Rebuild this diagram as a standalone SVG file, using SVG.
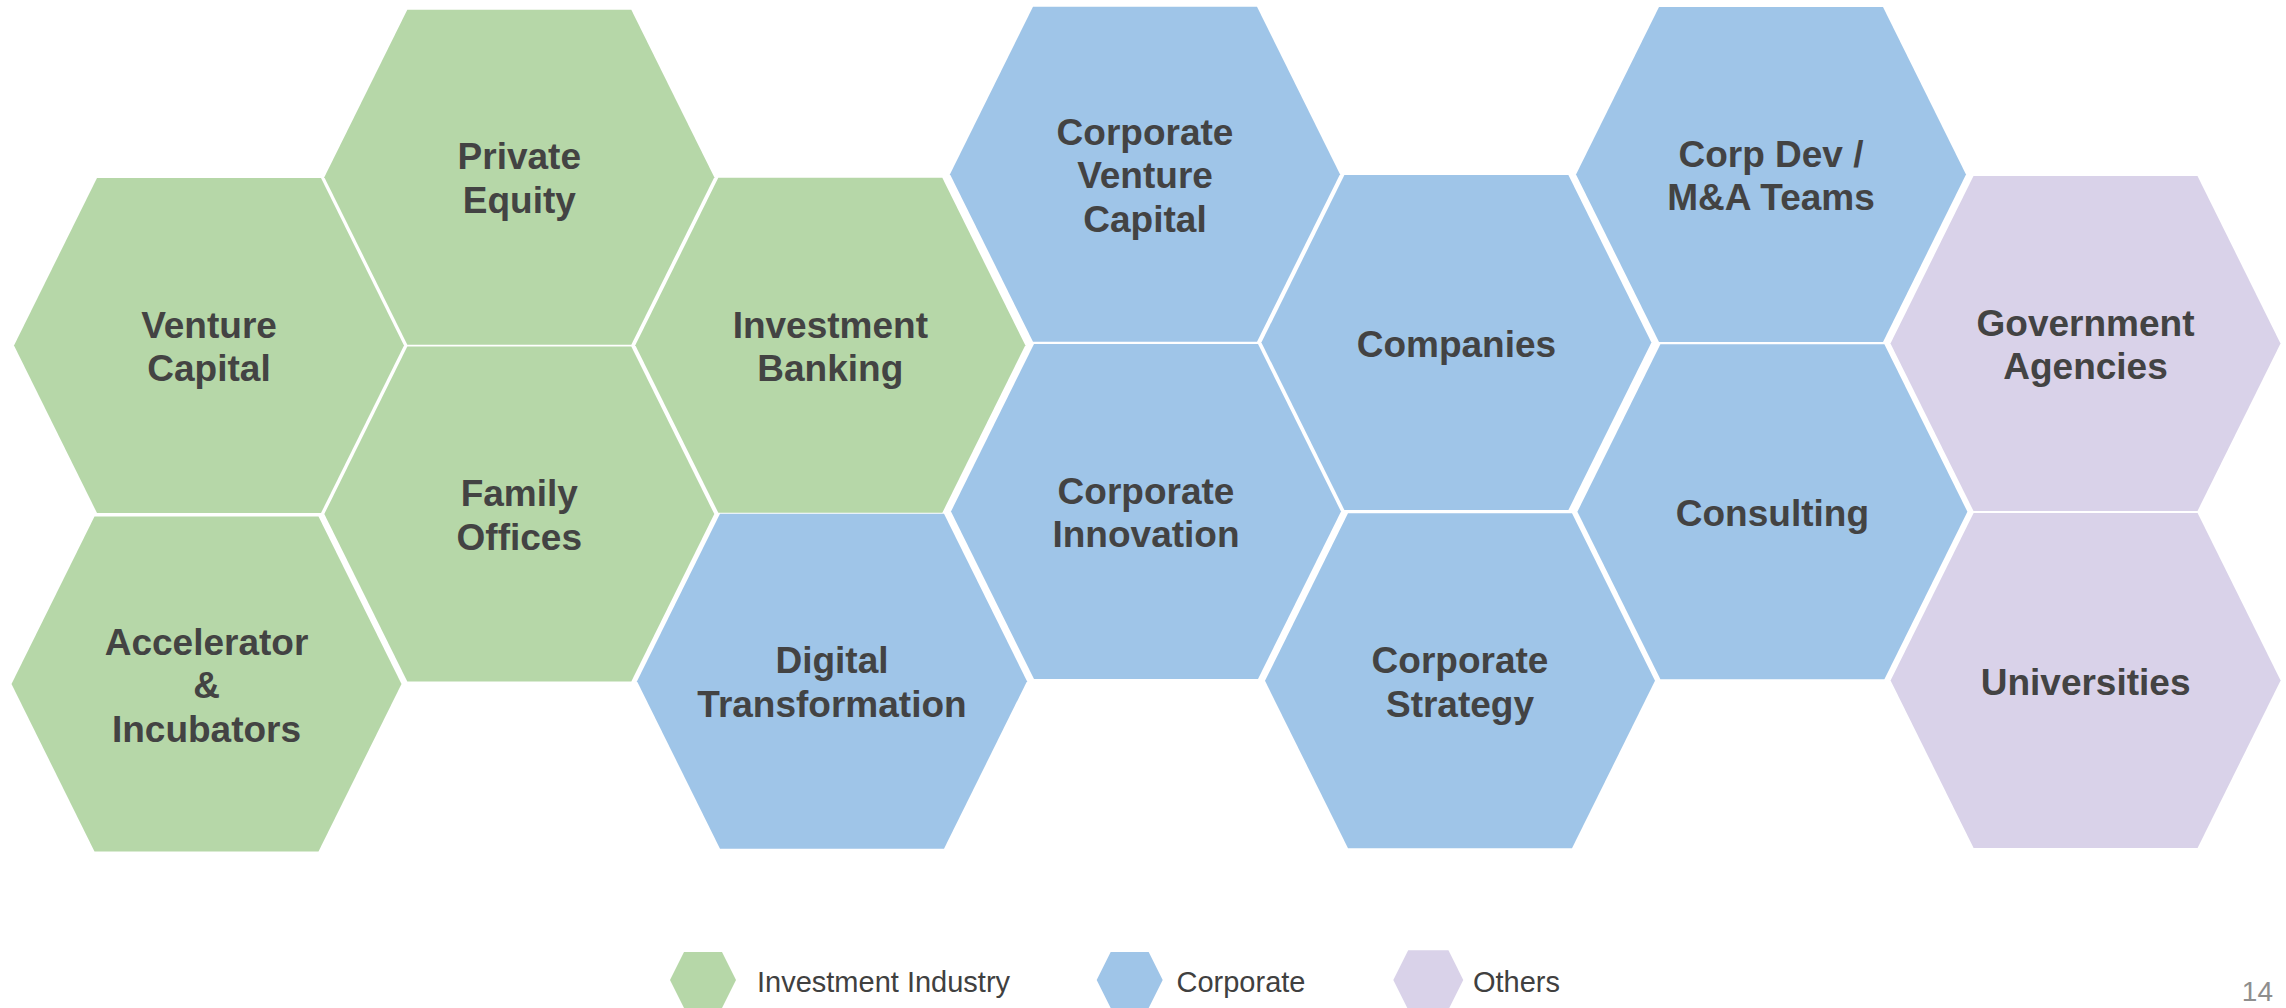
<svg xmlns="http://www.w3.org/2000/svg" xmlns:xlink="http://www.w3.org/1999/xlink" width="2286" height="1008" viewBox="0 0 2286 1008">
<style>
.g{fill:#b6d7a8}
.b{fill:#9fc5e8}
.p{fill:#d9d2e9}
.t{font-family:"Liberation Sans",Arial,sans-serif;font-weight:bold;font-size:37px;fill:#434343;text-anchor:middle}
.l{font-family:"Liberation Sans",Arial,sans-serif;font-size:29px;fill:#404040}
.n{font-family:"Liberation Sans",Arial,sans-serif;font-size:28px;fill:#8e8e8e;text-anchor:end}
</style>
<defs>
<polygon id="hex" points="-195,0 -112,-167.5 112,-167.5 195,0 112,167.5 -112,167.5"/>
<polygon id="lhex" points="-33,0 -19,-28 19,-28 33,0 19,28 -19,28"/>
</defs>
<rect width="2286" height="1008" fill="#ffffff"/>
<g id="connectors"></g>
<g id="venture-capital"><use xlink:href="#hex" x="209" y="345.5" class="g"/><text class="t" x="209"><tspan x="209" y="337.75">Venture</tspan><tspan x="209" y="381.25">Capital</tspan></text></g>
<g id="private-equity"><use xlink:href="#hex" x="519.3" y="177.2" class="g"/><text class="t"><tspan x="519.3" y="169.45">Private</tspan><tspan x="519.3" y="212.95">Equity</tspan></text></g>
<g id="family-offices"><use xlink:href="#hex" x="519.3" y="514" class="g"/><text class="t"><tspan x="519.3" y="506.25">Family</tspan><tspan x="519.3" y="549.75">Offices</tspan></text></g>
<g id="accelerator"><use xlink:href="#hex" x="206.5" y="684" class="g"/><text class="t"><tspan x="206.5" y="654.5">Accelerator</tspan><tspan x="206.5" y="698">&amp;</tspan><tspan x="206.5" y="741.5">Incubators</tspan></text></g>
<g id="investment-banking"><use xlink:href="#hex" x="830.3" y="345.3" class="g"/><text class="t"><tspan x="830.3" y="337.55">Investment</tspan><tspan x="830.3" y="381.05">Banking</tspan></text></g>
<g id="digital-transformation"><use xlink:href="#hex" x="832" y="681.2" class="b"/><text class="t"><tspan x="832" y="673.45">Digital</tspan><tspan x="832" y="716.95">Transformation</tspan></text></g>
<g id="corporate-venture-capital"><use xlink:href="#hex" x="1145" y="174.2" class="b"/><text class="t"><tspan x="1145" y="144.7">Corporate</tspan><tspan x="1145" y="188.2">Venture</tspan><tspan x="1145" y="231.7">Capital</tspan></text></g>
<g id="corporate-innovation"><use xlink:href="#hex" x="1146" y="511.5" class="b"/><text class="t"><tspan x="1146" y="503.75">Corporate</tspan><tspan x="1146" y="547.25">Innovation</tspan></text></g>
<g id="companies"><use xlink:href="#hex" x="1456.4" y="342.5" class="b"/><text class="t" x="1456.4" y="356.5">Companies</text></g>
<g id="corporate-strategy"><use xlink:href="#hex" x="1460" y="680.8" class="b"/><text class="t"><tspan x="1460" y="673">Corporate</tspan><tspan x="1460" y="716.5">Strategy</tspan></text></g>
<g id="corp-dev"><use xlink:href="#hex" x="1771" y="174.5" class="b"/><text class="t"><tspan x="1771" y="166.75">Corp Dev /</tspan><tspan x="1771" y="210.25">M&amp;A Teams</tspan></text></g>
<g id="consulting"><use xlink:href="#hex" x="1772.4" y="511.7" class="b"/><text class="t" x="1772.4" y="525.7">Consulting</text></g>
<g id="government-agencies"><use xlink:href="#hex" x="2085.5" y="343.5" class="p"/><text class="t"><tspan x="2085.5" y="335.75">Government</tspan><tspan x="2085.5" y="379.25">Agencies</tspan></text></g>
<g id="universities"><use xlink:href="#hex" x="2085.6" y="680.5" class="p"/><text class="t" x="2085.6" y="694.5">Universities</text></g>
<g id="legend">
<use xlink:href="#lhex" x="703" y="980" class="g"/>
<text class="l" x="757" y="991.5">Investment Industry</text>
<use xlink:href="#lhex" x="1129.7" y="980" class="b"/>
<text class="l" x="1176.5" y="991.5">Corporate</text>
<use xlink:href="#lhex" transform="translate(1428.3 980) scale(1.06)" class="p"/>
<text class="l" x="1473" y="991.5">Others</text>
</g>
<text class="n" x="2273" y="1001">14</text>
</svg>
